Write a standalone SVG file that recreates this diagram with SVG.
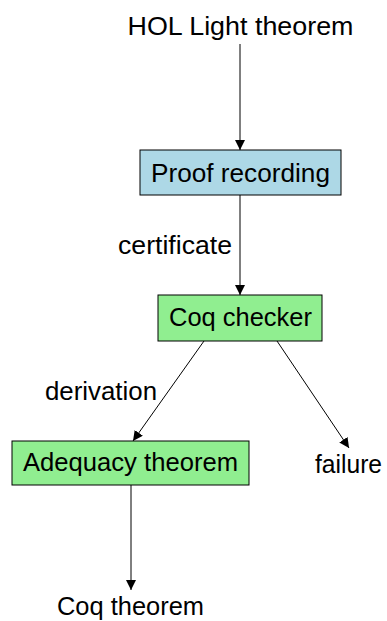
<svg xmlns="http://www.w3.org/2000/svg" width="387" height="621" viewBox="0 0 387 621">
<style>
text{font-family:"Liberation Sans",Arial,sans-serif;font-size:25px;fill:#000;text-anchor:middle}
.box{stroke:#000;stroke-width:1}
.edge{stroke:#000;stroke-width:1;fill:none;marker-end:url(#ah)}
</style>
<defs>
<marker id="ah" viewBox="0 0 10 10" refX="10" refY="5" markerWidth="10" markerHeight="10" markerUnits="userSpaceOnUse" orient="auto">
<path d="M0,0 L10,5 L0,10 z" fill="#000"/>
</marker>
</defs>
<rect width="387" height="621" fill="#fff"/>
<g id="connectors">
<line class="edge" x1="240" y1="44" x2="240" y2="150"/>
<line class="edge" x1="240" y1="195" x2="240" y2="295"/>
<line class="edge" x1="204" y1="341" x2="133" y2="441"/>
<line class="edge" x1="277" y1="341" x2="349" y2="448"/>
<line class="edge" x1="131" y1="485" x2="131" y2="590"/>
<text x="175" y="254" textLength="114" lengthAdjust="spacingAndGlyphs">certificate</text>
<text x="101" y="400" textLength="112" lengthAdjust="spacingAndGlyphs">derivation</text>
</g>
<g id="hol"><text x="240.5" y="35" textLength="226" lengthAdjust="spacingAndGlyphs">HOL Light theorem</text></g>
<g id="proof"><rect class="box" x="140" y="150" width="201" height="45" fill="#ADD8E6"/><text x="240.5" y="181.5" textLength="179" lengthAdjust="spacingAndGlyphs">Proof recording</text></g>
<g id="coq"><rect class="box" x="158" y="295" width="164" height="46" fill="#90EE90"/><text x="240.5" y="325.5" textLength="143" lengthAdjust="spacingAndGlyphs">Coq checker</text></g>
<g id="adequacy"><rect class="box" x="12" y="441" width="237" height="44" fill="#90EE90"/><text x="130.5" y="471" textLength="215" lengthAdjust="spacingAndGlyphs">Adequacy theorem</text></g>
<g id="failure"><text x="348.5" y="473" textLength="67" lengthAdjust="spacingAndGlyphs">failure</text></g>
<g id="coqthm"><text x="130.5" y="615" textLength="147" lengthAdjust="spacingAndGlyphs">Coq theorem</text></g>
</svg>
